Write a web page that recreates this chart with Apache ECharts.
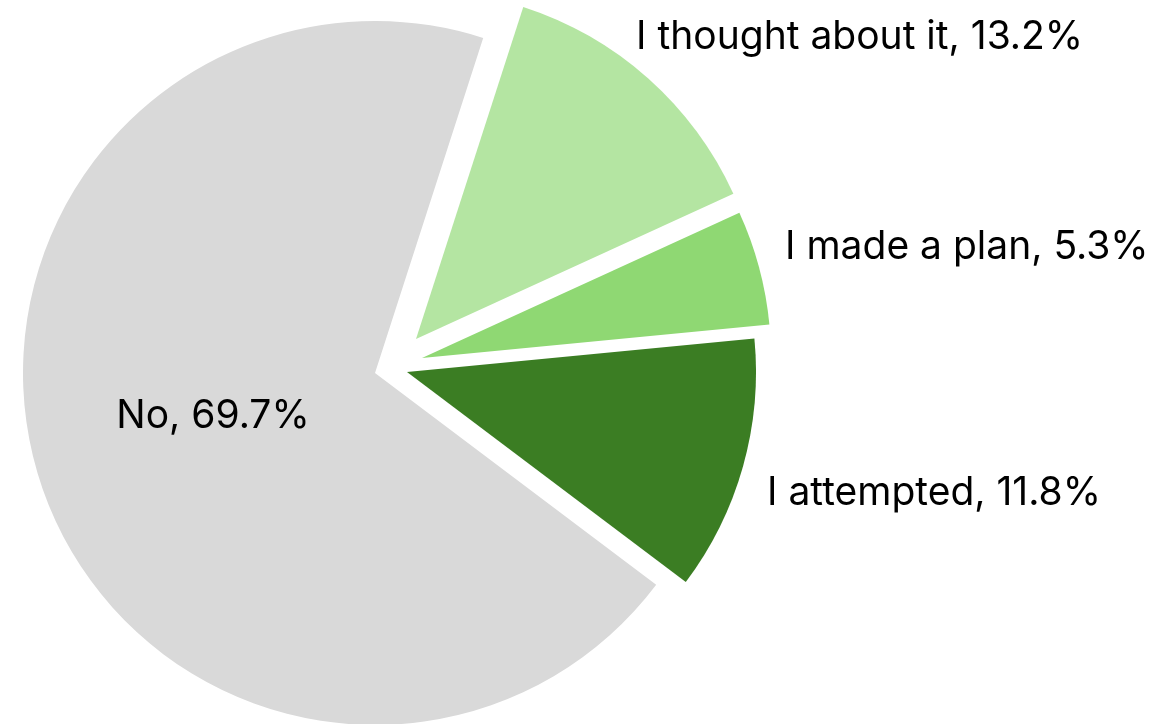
<!DOCTYPE html>
<html><head><meta charset="utf-8">
<script src="https://cdn.jsdelivr.net/npm/echarts@6/dist/echarts.min.js"></script>
<style>html,body{margin:0;padding:0;background:#fff}#c{width:1173px;height:724px}</style>
</head><body><div id="c"></div>
<script>
// ---- data ----
const categories = ['I thought about it', 'I made a plan', 'I attempted', 'No'];
const values = [13.2, 5.3, 11.8, 69.7];
const colors = ['#b4e5a2', '#8fd873', '#3b7d23', '#d9d9d9'];

// ---- layout (exploded slices: each drawn by its own pie, offset centre) ----
const FONT = 'Inter';
const FONT_SIZE = 39;
const sliceCenters = [[416, 339], [422, 358], [407, 372], [375, 373]];
const sliceRadius = [349, 349, 349, 352];
const labelAnchors = [
  {x: 636, y: 37, align: 'left'},
  {x: 785, y: 247, align: 'left'},
  {x: 767, y: 493, align: 'left'},
  {x: 213, y: 416, align: 'center'}
];

const chart = echarts.init(document.getElementById('c'), null, {renderer: 'canvas'});
const series = categories.map((_, k) => ({
  type: 'pie',
  center: sliceCenters[k],
  radius: sliceRadius[k],
  startAngle: 72.1,
  clockwise: true,
  silent: true,
  animation: false,
  avoidLabelOverlap: false,
  labelLine: {show: false},
  emphasis: {disabled: true},
  itemStyle: {borderWidth: 0},
  data: categories.map((name, i) => ({
    name: name,
    value: values[i],
    itemStyle: {color: i === k ? colors[i] : 'rgba(0,0,0,0)', borderWidth: 0},
    label: {
      show: i === k, position: 'inside', formatter: '{b}, {c}%',
      color: '#000', fontFamily: FONT, fontSize: FONT_SIZE
    }
  })),
  labelLayout: (p) => p.dataIndex === k
    ? {x: labelAnchors[k].x, y: labelAnchors[k].y, align: labelAnchors[k].align, verticalAlign: 'middle'}
    : {}
}));
chart.setOption({animation: false, backgroundColor: '#fff', series: series});
</script></body></html>
